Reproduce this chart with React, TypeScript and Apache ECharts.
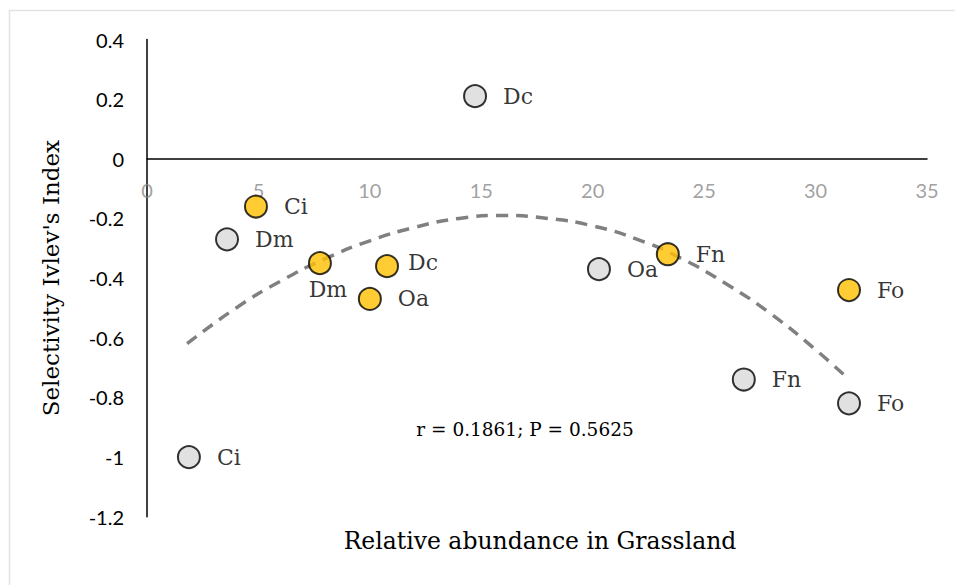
import React, { useEffect, useRef } from "react";
import * as echarts from "echarts";

const grayNames = ["Dc", "Dm", "Ci", "Oa", "Fn", "Fo"];
const grayX = [14.72, 3.59, 1.88, 20.28, 26.78, 31.5];
const grayY = [0.21, -0.27, -1.0, -0.37, -0.74, -0.82];

const orangeNames = ["Ci", "Dm", "Dc", "Oa", "Fn", "Fo"];
const orangeX = [4.89, 7.76, 10.77, 10.0, 23.37, 31.5];
const orangeY = [-0.16, -0.35, -0.36, -0.47, -0.32, -0.44];

const trendX = [1.8, 4, 6, 8, 10, 12, 14, 16, 18, 20, 22, 24, 26, 28, 30, 31.5];
const trendY = [-0.62, -0.5, -0.41, -0.335, -0.275, -0.23, -0.2, -0.19, -0.2, -0.225, -0.27, -0.335, -0.42, -0.52, -0.64, -0.74];

const xTickLabels = [0, 5, 10, 15, 20, 25, 30, 35];

const annotation = "r = 0.1861; P = 0.5625";
const xTitle = "Relative abundance in Grassland";
const yTitle = "Selectivity Ivlev's Index";

const serif = "'DejaVu Serif', 'Liberation Serif', serif";
const sans = "Lato, 'Open Sans', sans-serif";

export default function App() {
  const ref = useRef<HTMLDivElement>(null);
  useEffect(() => {
    if (!ref.current) return;
    const chart = echarts.init(ref.current, undefined, { renderer: "svg" });
    const labelBase = {
      show: true,
      position: "right",
      distance: 16,
      fontFamily: serif,
      fontSize: 22,
      color: "#000",
      formatter: (p: any) => p.data.name,
    };
    const mkData = (names: string[], xs: number[], ys: number[], overrides: Record<number, any>) =>
      names.map((n, i) => {
        const d: any = { name: n, value: [xs[i], ys[i]] };
        if (overrides[i]) d.label = overrides[i];
        return d;
      });
    chart.setOption({
      animation: false,
      grid: { left: 147, right: 28, top: 39.5, bottom: 68.3, containLabel: false },
      xAxis: {
        type: "value",
        min: 0,
        max: 35,
        interval: 5,
        axisLine: { onZero: true, lineStyle: { color: "#000", width: 1.5 } },
        axisTick: { show: false },
        splitLine: { show: false },
        axisLabel: { show: false },
      },
      yAxis: {
        type: "value",
        min: -1.2,
        max: 0.4,
        interval: 0.2,
        axisLine: { show: true, lineStyle: { color: "#000", width: 1.5 } },
        axisTick: { show: false },
        splitLine: { show: false },
        axisLabel: {
          color: "#000",
          fontFamily: sans,
          fontSize: 20,
          margin: 23,
          formatter: (v: number) => String(Math.round(v * 10) / 10),
        },
        name: yTitle,
        nameLocation: "middle",
        nameGap: 85,
        nameRotate: 90,
        nameTextStyle: { fontFamily: serif, fontSize: 23, color: "#000" },
      },
      graphic: [
        {
          type: "rect",
          shape: { x: 9.5, y: 10.5, width: 960, height: 600 },
          style: { fill: "none", stroke: "#e3e3e3", lineWidth: 1.5 },
          silent: true,
          z: -10,
        },
        {
          type: "text",
          x: 540,
          y: 541,
          style: {
            text: xTitle,
            fontFamily: serif,
            fontSize: 23.5,
            fill: "#000",
            align: "center",
            verticalAlign: "middle",
          },
        },
        {
          type: "text",
          x: 525,
          y: 429,
          style: {
            text: annotation,
            fontFamily: serif,
            fontSize: 18.5,
            fill: "#000",
            align: "center",
            verticalAlign: "middle",
          },
        },
      ],
      series: [
        {
          type: "scatter",
          data: xTickLabels.map((v) => ({ name: String(v), value: [v, 0] })),
          symbolSize: 0,
          silent: true,
          label: {
            show: true,
            position: "bottom",
            distance: 21,
            fontFamily: sans,
            fontSize: 20,
            color: "#888888",
            formatter: (p: any) => p.data.name,
          },
          z: 1,
        },
        {
          type: "line",
          data: trendX.map((x, i) => [x, trendY[i]]),
          smooth: true,
          symbol: "none",
          lineStyle: { color: "#808080", width: 3.5, type: [12, 8] },
          z: 3,
          silent: true,
        },
        {
          type: "scatter",
          data: mkData(grayNames, grayX, grayY, {}),
          symbolSize: 22,
          itemStyle: { color: "#d9d9d9", borderColor: "#000", borderWidth: 2 },
          label: labelBase,
          z: 2,
        },
        {
          type: "scatter",
          data: mkData(orangeNames, orangeX, orangeY, {
            1: { position: "bottom", distance: 3, offset: [8, 0] },
            2: { distance: 9, offset: [0, -4] },
          }),
          symbolSize: 22,
          itemStyle: { color: "#ffc000", borderColor: "#000", borderWidth: 2 },
          label: labelBase,
          z: 4,
        },
      ],
    });
    return () => chart.dispose();
  }, []);
  return (
    <div
      ref={ref}
      style={{ position: "fixed", left: 0, top: 0, width: 955, height: 585, background: "#fff" }}
    />
  );
}
